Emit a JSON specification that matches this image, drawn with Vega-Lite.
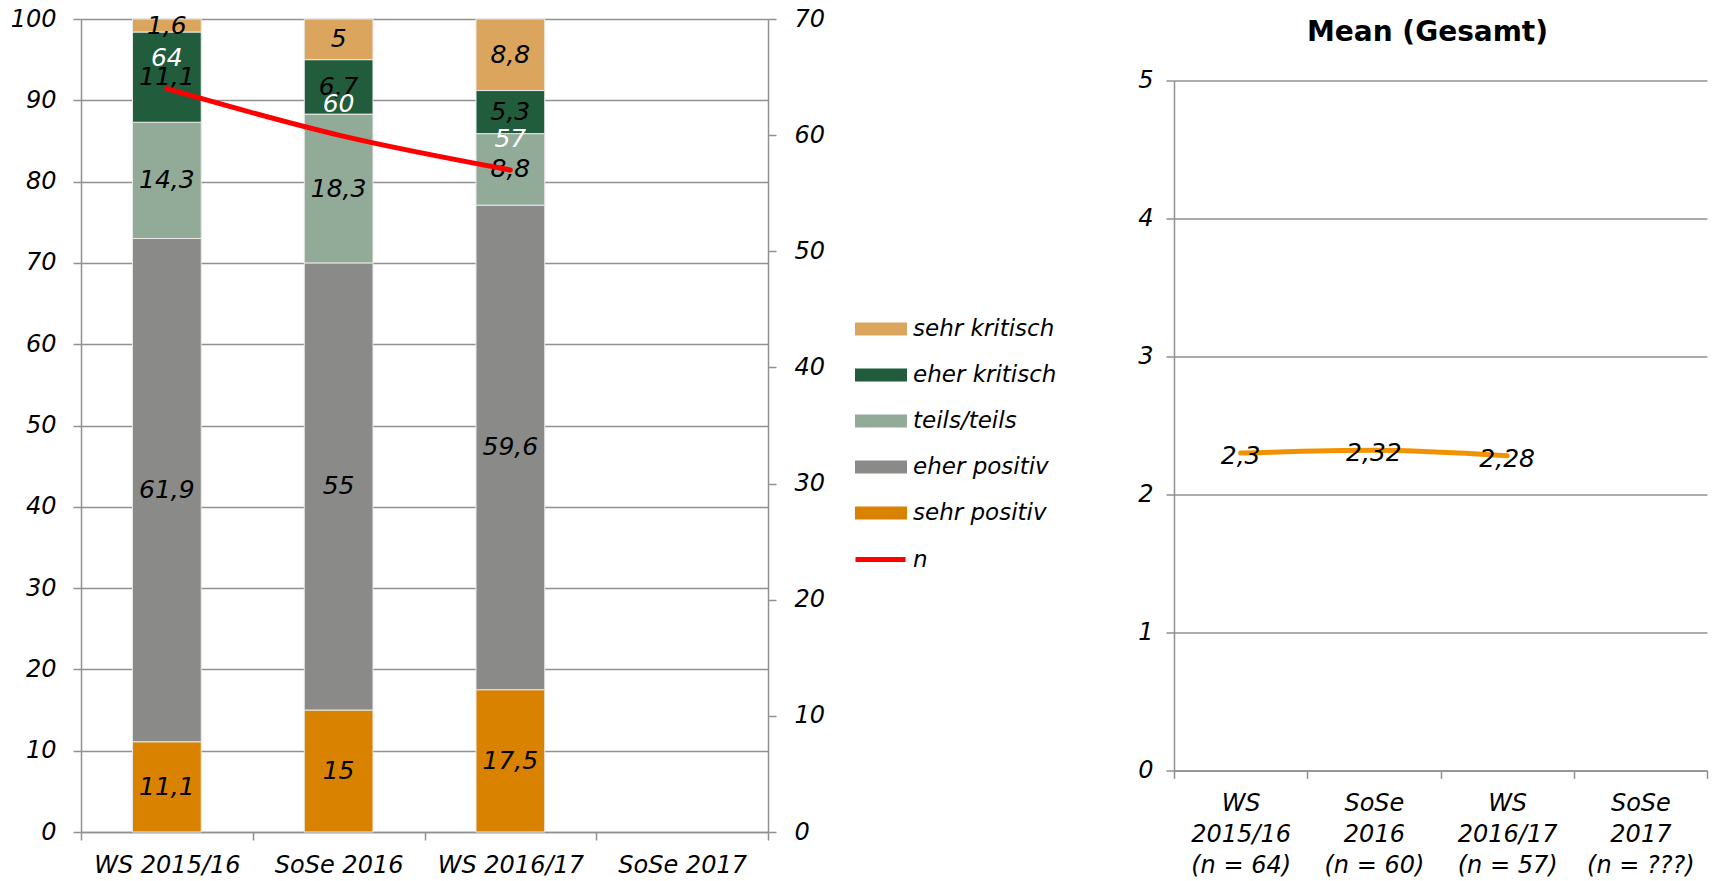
{
  "$schema": "https://vega.github.io/schema/vega-lite/v6.json",
  "autosize": {"type": "none"},
  "padding": {"left": 81, "top": 19, "right": 1631, "bottom": 862},
  "background": "white",
  "datasets": {
    "likert": [
      {"semester": "WS 2015/16", "level": "sehr positiv", "code": 1, "pct": 11.1},
      {"semester": "WS 2015/16", "level": "eher positiv", "code": 2, "pct": 61.9},
      {"semester": "WS 2015/16", "level": "teils/teils", "code": 3, "pct": 14.3},
      {"semester": "WS 2015/16", "level": "eher kritisch", "code": 4, "pct": 11.1},
      {"semester": "WS 2015/16", "level": "sehr kritisch", "code": 5, "pct": 1.6},
      {"semester": "SoSe 2016", "level": "sehr positiv", "code": 1, "pct": 15},
      {"semester": "SoSe 2016", "level": "eher positiv", "code": 2, "pct": 55},
      {"semester": "SoSe 2016", "level": "teils/teils", "code": 3, "pct": 18.3},
      {"semester": "SoSe 2016", "level": "eher kritisch", "code": 4, "pct": 6.7},
      {"semester": "SoSe 2016", "level": "sehr kritisch", "code": 5, "pct": 5},
      {"semester": "WS 2016/17", "level": "sehr positiv", "code": 1, "pct": 17.5},
      {"semester": "WS 2016/17", "level": "eher positiv", "code": 2, "pct": 59.6},
      {"semester": "WS 2016/17", "level": "teils/teils", "code": 3, "pct": 8.8},
      {"semester": "WS 2016/17", "level": "eher kritisch", "code": 4, "pct": 5.3},
      {"semester": "WS 2016/17", "level": "sehr kritisch", "code": 5, "pct": 8.8}
    ],
    "n": [
      {"semester": "WS 2015/16", "series": "n", "n": 64},
      {"semester": "SoSe 2016", "series": "n", "n": 60},
      {"semester": "WS 2016/17", "series": "n", "n": 57}
    ],
    "mean": [
      {"label": "WS\n2015/16\n(n = 64)", "mean": 2.3},
      {"label": "SoSe\n2016\n(n = 60)", "mean": 2.32},
      {"label": "WS\n2016/17\n(n = 57)", "mean": 2.28}
    ]
  },
  "spacing": 406,
  "bounds": "flush",
  "center": true,
  "hconcat": [
    {
      "width": 687,
      "height": 813,
      "layer": [
        {
          "data": {"name": "likert"},
          "layer": [
            {
              "mark": {"type": "bar", "width": {"band": 0.4}, "stroke": "#e8e8e8", "strokeWidth": 1},
              "encoding": {
                "x": {
                  "field": "semester", "type": "nominal", "sort": null,
                  "scale": {"type": "band", "domain": ["WS 2015/16", "SoSe 2016", "WS 2016/17", "SoSe 2017"], "paddingInner": 0, "paddingOuter": 0},
                  "axis": {"title": null, "labelAngle": 0, "tickBand": "extent", "labelPadding": 13, "grid": false, "labelExpr": "isValid(datum.value) ? datum.value : ''"}
                },
                "y": {
                  "field": "pct", "type": "quantitative", "stack": "zero",
                  "scale": {"domain": [0, 100], "nice": false},
                  "axis": {"title": null, "orient": "left", "values": [0, 10, 20, 30, 40, 50, 60, 70, 80, 90, 100], "format": "d", "grid": true, "labelPadding": 17}
                },
                "color": {
                  "field": "level", "type": "nominal",
                  "scale": {
                    "domain": ["sehr kritisch", "eher kritisch", "teils/teils", "eher positiv", "sehr positiv"],
                    "range": ["#DBA55E", "#215C3D", "#92AA98", "#8A8A89", "#D98200"]
                  },
                  "legend": {
                    "title": null, "orient": "none", "legendX": 787, "legendY": 297,
                    "symbolType": "M-2,-0.5H2V0.5H-2Z", "symbolSize": 676, "symbolStrokeWidth": 0,
                    "labelOffset": 19, "rowPadding": 21, "padding": 0
                  }
                },
                "order": {"field": "code", "type": "quantitative", "sort": "ascending"}
              }
            },
            {
              "mark": {"type": "text", "fontSize": 25, "fontStyle": "italic", "font": "DejaVu Sans", "color": "black"},
              "encoding": {
                "x": {"field": "semester", "type": "nominal", "sort": null},
                "y": {"field": "pct", "type": "quantitative", "stack": "zero", "bandPosition": 0.5},
                "detail": {"field": "level", "type": "nominal"},
                "order": {"field": "code", "type": "quantitative", "sort": "ascending"},
                "text": {"field": "pct", "type": "quantitative", "format": ".1~f"}
              }
            }
          ]
        },
        {
          "data": {"name": "n"},
          "layer": [
            {
              "mark": {"type": "line", "strokeWidth": 5, "strokeCap": "round", "interpolate": "monotone"},
              "encoding": {
                "x": {"field": "semester", "type": "nominal", "sort": null},
                "y": {
                  "field": "n", "type": "quantitative",
                  "scale": {"domain": [0, 70], "nice": false},
                  "axis": {"title": null, "orient": "right", "values": [0, 10, 20, 30, 40, 50, 60, 70], "format": "d", "grid": false, "labelPadding": 18}
                },
                "stroke": {
                  "field": "series", "type": "nominal",
                  "scale": {"range": ["#FF0000"]},
                  "legend": {
                    "title": null, "orient": "none", "legendX": 772, "legendY": 513,
                    "symbolType": "stroke", "symbolSize": 2500, "symbolStrokeWidth": 5,
                    "labelOffset": 5, "padding": 0
                  }
                }
              }
            },
            {
              "mark": {"type": "text", "dy": -31, "fontSize": 25, "fontStyle": "italic", "font": "DejaVu Sans", "color": "white"},
              "encoding": {
                "x": {"field": "semester", "type": "nominal", "sort": null},
                "y": {"field": "n", "type": "quantitative"},
                "text": {"field": "n", "type": "quantitative", "format": "d"}
              }
            }
          ]
        }
      ],
      "resolve": {"scale": {"y": "independent"}}
    },
    {
      "width": 533,
      "height": 690,
      "title": {"text": "Mean (Gesamt)", "fontSize": 28, "font": "DejaVu Sans", "fontWeight": "bold", "color": "black", "baseline": "alphabetic", "offset": 0, "dx": -13},
      "data": {"name": "mean"},
      "layer": [
        {
          "mark": {"type": "line", "color": "#F39200", "strokeWidth": 5, "strokeCap": "round", "interpolate": "monotone"},
          "encoding": {
            "x": {
              "field": "label", "type": "nominal", "sort": null,
              "scale": {"type": "band", "domain": ["WS\n2015/16\n(n = 64)", "SoSe\n2016\n(n = 60)", "WS\n2016/17\n(n = 57)", "SoSe\n2017\n(n = ???)"], "paddingInner": 0, "paddingOuter": 0},
              "axis": {"title": null, "labelAngle": 0, "tickBand": "extent", "labelPadding": 13, "labelLineHeight": 31, "labelExpr": "isValid(datum.value) ? split(datum.value, '\\n') : ''", "grid": false}
            },
            "y": {
              "field": "mean", "type": "quantitative",
              "scale": {"domain": [0, 5], "nice": false},
              "axis": {"title": null, "values": [0, 1, 2, 3, 4, 5], "format": "d", "grid": true, "labelPadding": 13}
            }
          }
        },
        {
          "mark": {"type": "text", "dy": 3, "fontSize": 25, "fontStyle": "italic", "font": "DejaVu Sans", "color": "black"},
          "encoding": {
            "x": {"field": "label", "type": "nominal", "sort": null},
            "y": {"field": "mean", "type": "quantitative"},
            "text": {"field": "mean", "type": "quantitative", "format": ".2~f"}
          }
        }
      ]
    }
  ],
  "config": {
    "font": "DejaVu Sans",
    "view": {"stroke": null},
    "locale": {"number": {"decimal": ",", "thousands": ".", "grouping": [3], "currency": ["", " €"]}},
    "axis": {
      "labelFont": "DejaVu Sans", "labelFontStyle": "italic", "labelFontSize": 24, "labelColor": "black",
      "domainColor": "#919191", "gridColor": "#919191", "tickColor": "#919191",
      "domainWidth": 1.5, "gridWidth": 1.5, "tickWidth": 1.5, "tickSize": 8
    },
    "legend": {
      "labelFont": "DejaVu Sans", "labelFontStyle": "italic", "labelFontSize": 23, "labelColor": "black"
    }
  }
}
